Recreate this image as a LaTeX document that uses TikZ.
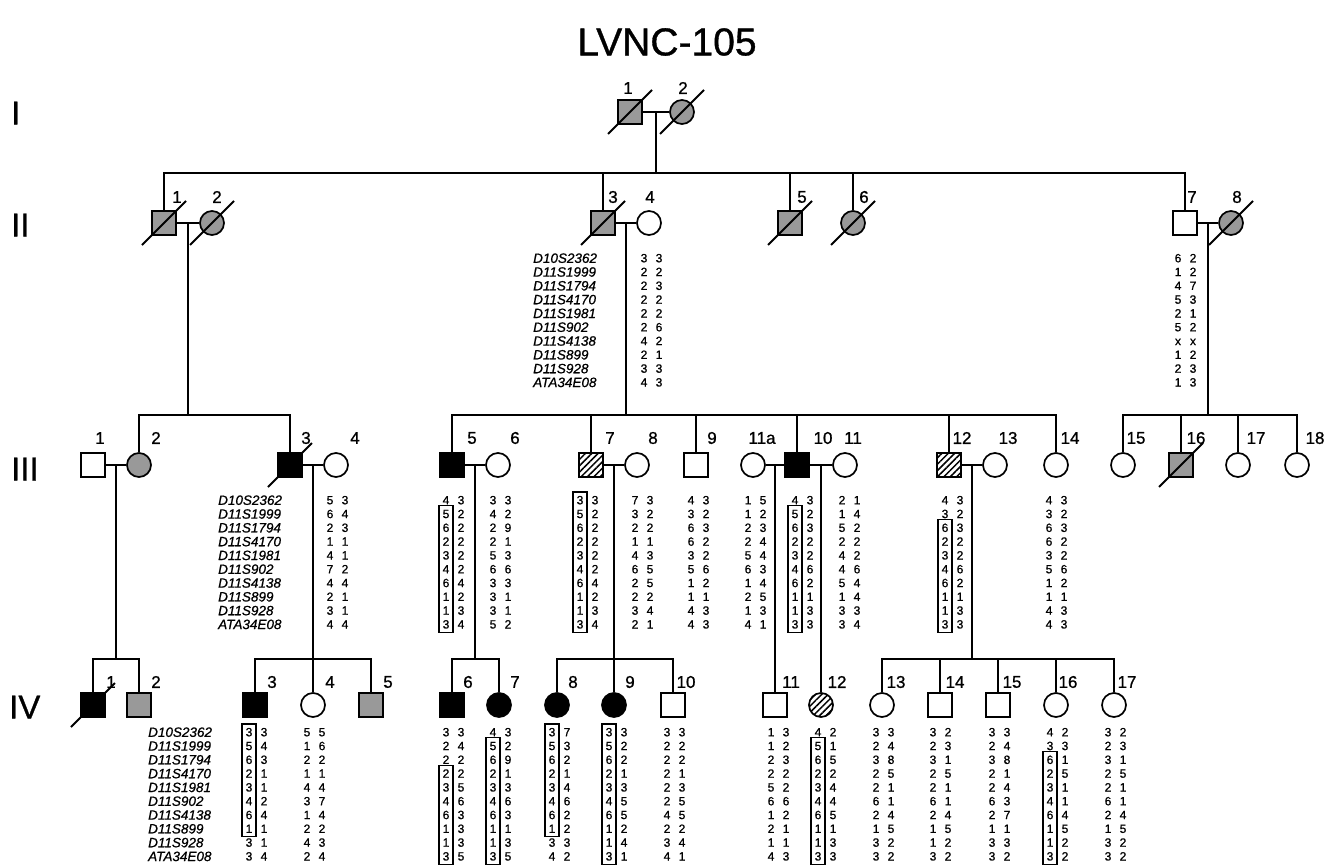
\documentclass[tikz,border=0pt]{standalone}
\usepackage{fontspec}
\setmainfont{Liberation Sans}[FakeBold=0.9]
\usetikzlibrary{calc,patterns.meta}

\tikzset{
  pline/.style={line width=1.7pt},
  sym/.style={draw, line width=1.7pt, inner sep=0pt, minimum size=24pt},
  male/.style={sym, rectangle, fill=white},
  female/.style={sym, circle, fill=white},
  affected/.style={fill=black},
  grey/.style={fill=black!40},
  hatched/.style={pattern={Lines[angle=45,distance=4.5pt,line width=1.5pt]}},
  idnum/.style={font=\fontsize{17}{17}\selectfont, inner sep=0pt},
  gennum/.style={font=\fontsize{33}{33}\selectfont, inner sep=0pt, anchor=west},
  allele/.style={font=\fontsize{12}{12}\selectfont, inner sep=0pt, text height=8.6pt, text depth=0pt},
  marker/.style={font=\fontsize{13.5}{13.5}\selectfont\itshape, inner sep=0pt, anchor=west, text height=9.7pt, text depth=0pt},
  hapbox/.style={draw, line width=1.3pt},
}

% #1 prefix, #2 x of first column, #3 y of first row, #4 allele pairs
\newcommand{\alleles}[4]{%
  \foreach \pa/\pb [count=\rw] in {#4}{
    \node[allele] (#1a\rw) at ({#2},{#3+(\rw-1)*13.8}) {\pa};
    \node[allele] (#1b\rw) at ({#2+15},{#3+(\rw-1)*13.8}) {\pb};
  }}
% marker names, #1 prefix, #2 left x, #3 y of first row
\newcommand{\markers}[3]{%
  \foreach \mk [count=\rw] in {D10S2362,D11S1999,D11S1794,D11S4170,D11S1981,
      D11S902,D11S4138,D11S899,D11S928,ATA34E08}{
    \node[marker] (#1m\rw) at ({#2},{#3+(\rw-1)*13.8}) {\mk};
  }}
% box round rows #2 to #3 of the first column
\newcommand{\phase}[3]{%
  \draw[hapbox] ($(#1a#2.north west)+(-3.5,-3.5)$) rectangle ($(#1a#3.south east)+(3.5,3.5)$);}
\newcommand{\deceased}[1]{%
  \draw[pline, line width=2pt] ($(#1)+(-22,22)$) -- ($(#1)+(22,-22)$);}

\begin{document}
\begin{tikzpicture}[x=1pt,y=-1pt]
\useasboundingbox (0,0) rectangle (1335,867);
\node[font=\fontsize{39}{39}\selectfont] (title) at (667,42) {LVNC-105};

\node[gennum] (gI) at (11,113) {I};
\node[gennum] (gII) at (11,225) {II};
\node[gennum] (gIII) at (11,469) {III};
\node[gennum] (gIV) at (9,707) {IV};

\coordinate (yII) at (0,173);
\coordinate (yIII) at (0,415);
\coordinate (yIV) at (0,659);

% ---------------- generation I ----------------
\node[male,grey] (I1) at (630,112) {};
\node[female,grey] (I2) at (682,112) {};
\deceased{I1}\deceased{I2}
\node[idnum] (lI1) at (628,88) {1};
\node[idnum] (lI2) at (683,88) {2};

% ---------------- generation II ----------------
\node[male,grey] (II1) at (164,223) {};
\node[female,grey] (II2) at (212,223) {};
\node[male,grey] (II3) at (603,223) {};
\node[female] (II4) at (649,223) {};
\node[male,grey] (II5) at (790,223) {};
\node[female,grey] (II6) at (853,223) {};
\node[male] (II7) at (1185,223) {};
\node[female,grey] (II8) at (1231,223) {};
\foreach \n in {II1,II2,II3,II5,II6,II8}{\deceased{\n}}
\foreach \n/\t/\d in {II1/1/13, II2/2/5, II3/3/10, II4/4/1, II5/5/12,
    II6/6/11, II7/7/7, II8/8/6}{
  \node[idnum] (l\n) at ($(\n)+(\d,-26)$) {\t};}

\coordinate (mI) at ($(I1.east)!.5!(I2.west)$);
\draw[pline] (I1.east) -- (I2.west);
\draw[pline] (mI) -- (mI |- yII);
\draw[pline] (II1.north) -- (II1 |- yII) -- (II7 |- yII) -- (II7.north);
\foreach \c in {II3,II5,II6}{\draw[pline] (\c.north) -- (\c |- yII);}

\markers{II}{533}{258}
\alleles{II4}{644}{258}{3/3,2/2,2/3,2/2,2/2,2/6,4/2,2/1,3/3,4/3}
\alleles{II7}{1178}{258}{6/2,1/2,4/7,5/3,2/1,5/2,x/x,1/2,2/3,1/3}

% ---------------- generation III ----------------
\node[male] (III1) at (93,465) {};
\node[female,grey] (III2) at (139,465) {};
\node[male,affected] (III3) at (290,465) {};
\node[female] (III4) at (336,465) {};
\node[male,affected] (III5) at (452,465) {};
\node[female] (III6) at (498,465) {};
\node[male,hatched] (III7) at (591,465) {};
\node[female] (III8) at (637,465) {};
\node[male] (III9) at (696,465) {};
\node[female] (III11a) at (753,465) {};
\node[male,affected] (III10) at (797,465) {};
\node[female] (III11) at (845,465) {};
\node[male,hatched] (III12) at (949,465) {};
\node[female] (III13) at (995,465) {};
\node[female] (III14) at (1056,465) {};
\node[female] (III15) at (1123,465) {};
\node[male,grey] (III16) at (1181,465) {};
\node[female] (III17) at (1238,465) {};
\node[female] (III18) at (1297,465) {};
\deceased{III3}\deceased{III16}
\foreach \n/\t/\d in {III1/1/7, III2/2/17, III3/3/16, III4/4/19, III5/5/20,
    III6/6/17, III7/7/19, III8/8/16, III9/9/16, III11a/11a/9, III10/10/26,
    III11/11/8, III12/12/13, III13/13/13, III14/14/14, III15/15/13,
    III16/16/15, III17/17/18, III18/18/18}{
  \node[idnum] (l\n) at ($(\n)+(\d,-27)$) {\t};}

\draw[pline] (II1.east) -- (II2.west);
\coordinate (mII1) at ($(II1.east)!.5!(II2.west)$);
\draw[pline] (mII1) -- (mII1 |- yIII);
\draw[pline] (III2.north) -- (III2 |- yIII) -- (III3 |- yIII) -- (III3.north);

\draw[pline] (II3.east) -- (II4.west);
\coordinate (mII3) at ($(II3.east)!.5!(II4.west)$);
\draw[pline] (mII3) -- (mII3 |- yIII);
\draw[pline] (III5.north) -- (III5 |- yIII) -- (III14 |- yIII) -- (III14.north);
\foreach \c in {III7,III9,III10,III12}{\draw[pline] (\c.north) -- (\c |- yIII);}

\draw[pline] (II7.east) -- (II8.west);
\coordinate (mII7) at ($(II7.east)!.5!(II8.west)$);
\draw[pline] (mII7) -- (mII7 |- yIII);
\draw[pline] (III15.north) -- (III15 |- yIII) -- (III18 |- yIII) -- (III18.north);
\foreach \c in {III16,III17}{\draw[pline] (\c.north) -- (\c |- yIII);}

\markers{III}{218}{500}
\alleles{III3}{330}{500}{5/3,6/4,2/3,1/1,4/1,7/2,4/4,2/1,3/1,4/4}
\alleles{III5}{446}{500}{4/3,5/2,6/2,2/2,3/2,4/2,6/4,1/2,1/3,3/4}
\alleles{III6}{493}{500}{3/3,4/2,2/9,2/1,5/3,6/6,3/3,3/1,3/1,5/2}
\alleles{III7}{580}{500}{3/3,5/2,6/2,2/2,3/2,4/2,6/4,1/2,1/3,3/4}
\alleles{III8}{635}{500}{7/3,3/2,2/2,1/1,4/3,6/5,2/5,2/2,3/4,2/1}
\alleles{III9}{691}{500}{4/3,3/2,6/3,6/2,3/2,5/6,1/2,1/1,4/3,4/3}
\alleles{III11a}{748}{500}{1/5,1/2,2/3,2/4,5/4,6/3,1/4,2/5,1/3,4/1}
\alleles{III10}{795}{500}{4/3,5/2,6/3,2/2,3/2,4/6,6/2,1/1,1/3,3/3}
\alleles{III11}{842}{500}{2/1,1/4,5/2,2/2,4/2,4/6,5/4,1/4,3/3,3/4}
\alleles{III12}{945}{500}{4/3,3/2,6/3,2/2,3/2,4/6,6/2,1/1,1/3,3/3}
\alleles{III14}{1049}{500}{4/3,3/2,6/3,6/2,3/2,5/6,1/2,1/1,4/3,4/3}
\phase{III5}{2}{10}
\phase{III7}{1}{10}
\phase{III10}{2}{10}
\phase{III12}{3}{10}

% ---------------- generation IV ----------------
\node[male,affected] (IV1) at (93,705) {};
\node[male,grey] (IV2) at (139,705) {};
\node[male,affected] (IV3) at (255,705) {};
\node[female] (IV4) at (313,705) {};
\node[male,grey] (IV5) at (371,705) {};
\node[male,affected] (IV6) at (452,705) {};
\node[female,affected] (IV7) at (499,705) {};
\node[female,affected] (IV8) at (557,705) {};
\node[female,affected] (IV9) at (614,705) {};
\node[male] (IV10) at (673,705) {};
\node[male] (IV11) at (775,705) {};
\node[female,hatched] (IV12) at (821,705) {};
\node[female] (IV13) at (882,705) {};
\node[male] (IV14) at (940,705) {};
\node[male] (IV15) at (998,705) {};
\node[female] (IV16) at (1056,705) {};
\node[female] (IV17) at (1114,705) {};
\deceased{IV1}
\foreach \n/\t/\d in {IV1/1/18, IV2/2/17, IV3/3/17, IV4/4/17, IV5/5/17,
    IV6/6/16, IV7/7/16, IV8/8/16, IV9/9/16, IV10/10/13, IV11/11/16,
    IV12/12/16, IV13/13/14, IV14/14/15, IV15/15/14, IV16/16/12, IV17/17/13}{
  \node[idnum] (l\n) at ($(\n)+(\d,-23)$) {\t};}

\draw[pline] (III1.east) -- (III2.west);
\coordinate (mIII1) at ($(III1.east)!.5!(III2.west)$);
\draw[pline] (mIII1) -- (mIII1 |- yIV);
\draw[pline] (IV1.north) -- (IV1 |- yIV) -- (IV2 |- yIV) -- (IV2.north);

\draw[pline] (III3.east) -- (III4.west);
\coordinate (mIII3) at ($(III3.east)!.5!(III4.west)$);
\draw[pline] (mIII3) -- (mIII3 |- yIV);
\draw[pline] (IV3.north) -- (IV3 |- yIV) -- (IV5 |- yIV) -- (IV5.north);
\draw[pline] (IV4.north) -- (IV4 |- yIV);

\draw[pline] (III5.east) -- (III6.west);
\coordinate (mIII5) at ($(III5.east)!.5!(III6.west)$);
\draw[pline] (mIII5) -- (mIII5 |- yIV);
\draw[pline] (IV6.north) -- (IV6 |- yIV) -- (IV7 |- yIV) -- (IV7.north);

\draw[pline] (III7.east) -- (III8.west);
\coordinate (mIII7) at ($(III7.east)!.5!(III8.west)$);
\draw[pline] (mIII7) -- (mIII7 |- yIV);
\draw[pline] (IV8.north) -- (IV8 |- yIV) -- (IV10 |- yIV) -- (IV10.north);
\draw[pline] (IV9.north) -- (IV9 |- yIV);

\draw[pline] (III11a.east) -- (III10.west);
\coordinate (mIII11a) at ($(III11a.east)!.5!(III10.west)$);
\draw[pline] (mIII11a) -- (IV11.north);
\draw[pline] (III10.east) -- (III11.west);
\coordinate (mIII10) at ($(III10.east)!.5!(III11.west)$);
\draw[pline] (mIII10) -- (IV12.north);

\draw[pline] (III12.east) -- (III13.west);
\coordinate (mIII12) at ($(III12.east)!.5!(III13.west)$);
\draw[pline] (mIII12) -- (mIII12 |- yIV);
\draw[pline] (IV13.north) -- (IV13 |- yIV) -- (IV17 |- yIV) -- (IV17.north);
\foreach \c in {IV14,IV15,IV16}{\draw[pline] (\c.north) -- (\c |- yIV);}

\markers{IV}{148}{732}
\alleles{IV3}{249}{732}{3/3,5/4,6/3,2/1,3/1,4/2,6/4,1/1,3/1,3/4}
\alleles{IV4}{307}{732}{5/5,1/6,2/2,1/1,4/4,3/7,1/4,2/2,4/3,2/4}
\alleles{IV6}{446}{732}{3/3,2/4,2/2,2/2,3/5,4/6,6/3,1/3,1/3,3/5}
\alleles{IV7}{493}{732}{4/3,5/2,6/9,2/1,3/3,4/6,6/3,1/1,1/3,3/5}
\alleles{IV8}{552}{732}{3/7,5/3,6/2,2/1,3/4,4/6,6/2,1/2,3/3,4/2}
\alleles{IV9}{609}{732}{3/3,5/2,6/2,2/1,3/3,4/5,6/5,1/2,1/4,3/1}
\alleles{IV10}{667}{732}{3/3,2/2,2/2,2/1,2/3,2/5,4/5,2/2,3/4,4/1}
\alleles{IV11}{771}{732}{1/3,1/2,2/3,2/2,5/2,6/6,1/2,2/1,1/1,4/3}
\alleles{IV12}{818}{732}{4/2,5/1,6/5,2/2,3/4,4/4,6/5,1/1,1/3,3/3}
\alleles{IV13}{876}{732}{3/3,2/4,3/8,2/5,2/1,6/1,2/4,1/5,3/2,3/2}
\alleles{IV14}{933}{732}{3/2,2/3,3/1,2/5,2/1,6/1,2/4,1/5,1/2,3/2}
\alleles{IV15}{992}{732}{3/3,2/4,3/8,2/1,2/4,6/3,2/7,1/1,3/3,3/2}
\alleles{IV16}{1050}{732}{4/2,3/3,6/1,2/5,3/1,4/1,6/4,1/5,1/2,3/2}
\alleles{IV17}{1108}{732}{3/2,2/3,3/1,2/5,2/1,6/1,2/4,1/5,3/2,3/2}
\phase{IV3}{1}{8}
\phase{IV6}{4}{10}
\phase{IV7}{2}{10}
\phase{IV8}{1}{8}
\phase{IV9}{1}{10}
\phase{IV12}{2}{10}
\phase{IV16}{3}{10}
\end{tikzpicture}
\end{document}
